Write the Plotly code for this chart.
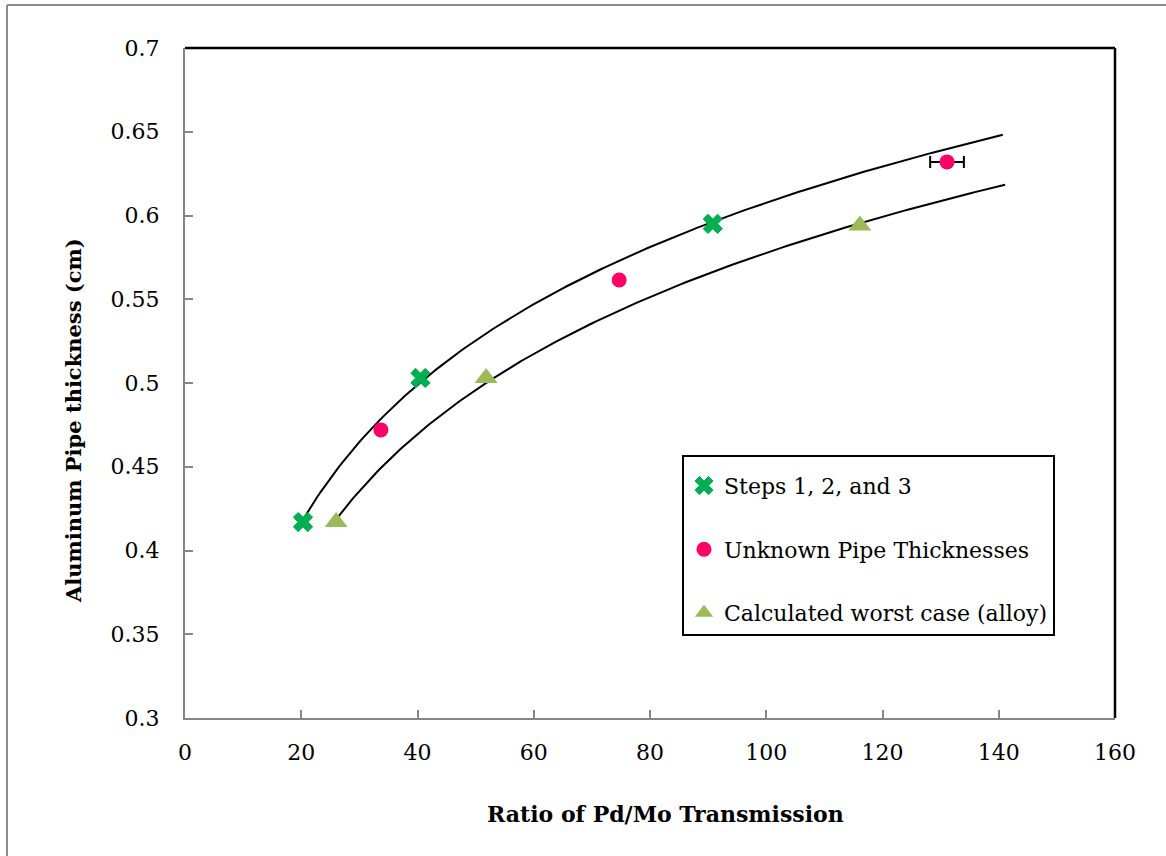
import numpy as np
import plotly.graph_objects as go

# ---- data ----
steps_x = [20.3, 40.5, 90.8]
steps_y = [0.417, 0.503, 0.595]

unknown_x = [33.7, 74.7, 131.1]
unknown_y = [0.472, 0.5615, 0.632]
unknown_xerr = [None, None, 2.9]

calc_x = [26.0, 51.8, 116.1]
calc_y = [0.417, 0.503, 0.594]

# trendline extents (Excel forward forecast)
steps_trend_end = 140.7
calc_trend_end = 141.1

x_ticks = [0, 20, 40, 60, 80, 100, 120, 140, 160]
y_ticks = [0.3, 0.35, 0.4, 0.45, 0.5, 0.55, 0.6, 0.65, 0.7]
y_ticklabels = ["0.3", "0.35", "0.4", "0.45", "0.5", "0.55", "0.6", "0.65", "0.7"]

FONT = "DejaVu Serif"
GRAY = "#868686"


def log_fit(xs, ys, x_end):
    a, b = np.polyfit(np.log(xs), ys, 1)
    xx = np.linspace(min(xs), x_end, 200)
    return xx, a * np.log(xx) + b


fig = go.Figure()

tx, ty = log_fit(steps_x, steps_y, steps_trend_end)
fig.add_trace(go.Scatter(x=tx, y=ty, mode="lines", line=dict(color="black", width=2),
                         showlegend=False, hoverinfo="skip"))
tx2, ty2 = log_fit(calc_x, calc_y, calc_trend_end)
fig.add_trace(go.Scatter(x=tx2, y=ty2, mode="lines", line=dict(color="black", width=2),
                         showlegend=False, hoverinfo="skip"))

fig.add_trace(go.Scatter(
    x=steps_x, y=steps_y, mode="markers", name="Steps 1, 2, and 3", legendgroup="a",
    marker=dict(symbol="x", size=17, color="#00B050", line=dict(width=1, color="#00B050"))))
fig.add_trace(go.Scatter(
    x=unknown_x, y=unknown_y, mode="markers", name="Unknown Pipe Thicknesses", legendgroup="b",
    marker=dict(symbol="circle", size=15, color="#FF0066"),
    error_x=dict(type="data", array=unknown_xerr, symmetric=True, color="black",
                 thickness=2, width=6)))
fig.add_trace(go.Scatter(
    x=calc_x, y=calc_y, mode="markers", name="Calculated worst case (alloy)", legendgroup="c",
    marker=dict(symbol="triangle-up", size=20, color="#9BBB59")))

W, H = 1166, 856
# plot area in screen pixels: x 185..1115, y 48..718 (body margin removed below)
L, T = 185, 48
R = W - 1115
B = H - 718
pw, ph = W - L - R, H - T - B


def px_x(p):
    return (p - L) / pw


def px_y(p):
    return (H - B - p) / ph


shapes = [
    # outer chart border (extends past right/bottom of image)
    dict(type="line", xref="paper", yref="paper", x0=px_x(7), x1=px_x(7), y0=px_y(5), y1=px_y(870),
         line=dict(color="#8c8c8c", width=2)),
    dict(type="line", xref="paper", yref="paper", x0=px_x(7), x1=px_x(1180), y0=px_y(5), y1=px_y(5),
         line=dict(color="#8c8c8c", width=2)),
    # plot-area border top/right
    dict(type="line", xref="paper", yref="paper", x0=0, x1=1, y0=1, y1=1,
         line=dict(color="black", width=2.5)),
    dict(type="line", xref="paper", yref="paper", x0=1, x1=1, y0=0, y1=1,
         line=dict(color="black", width=2.5)),
]

annotations = [
    dict(text="<b>Ratio of Pd/Mo Transmission</b>", xref="paper", yref="paper",
         x=px_x(665), y=px_y(814), showarrow=False, xanchor="center", yanchor="middle",
         font=dict(family=FONT, size=22, color="black")),
    dict(text="<b>Aluminum Pipe thickness (cm)</b>", xref="paper", yref="paper",
         x=px_x(73), y=px_y(421), showarrow=False, xanchor="center", yanchor="middle",
         textangle=-90, font=dict(family=FONT, size=21, color="black")),
]

fig.update_layout(
    width=W, height=H,
    margin=dict(l=L, r=R, t=T, b=B, pad=0),
    paper_bgcolor="white", plot_bgcolor="white",
    font=dict(family=FONT, size=22, color="black"),
    shapes=shapes, annotations=annotations,
    legend=dict(x=px_x(682), y=px_y(455), xanchor="left", yanchor="top",
                bordercolor="black", borderwidth=2, bgcolor="white",
                font=dict(family=FONT, size=22, color="black"),
                title=dict(text="&nbsp;", font=dict(size=6)),
                tracegroupgap=32, itemwidth=30),
)
fig.update_xaxes(range=[0, 160], tickvals=x_ticks, ticktext=[str(v) for v in x_ticks],
                 showgrid=False, zeroline=False, showline=True, linecolor=GRAY, linewidth=2,
                 ticks="inside", ticklen=8, tickwidth=2, tickcolor=GRAY,
                 ticklabelstandoff=14, tickfont=dict(family=FONT, size=22))
fig.update_yaxes(range=[0.3, 0.7], tickvals=y_ticks, ticktext=y_ticklabels,
                 showgrid=False, zeroline=False, showline=True, linecolor=GRAY, linewidth=2,
                 ticks="inside", ticklen=8, tickwidth=2, tickcolor=GRAY,
                 ticklabelstandoff=19, tickfont=dict(family=FONT, size=22))

fig.write_html("out.html", config={"displayModeBar": False},
               post_script="document.body.style.margin='0px';")
